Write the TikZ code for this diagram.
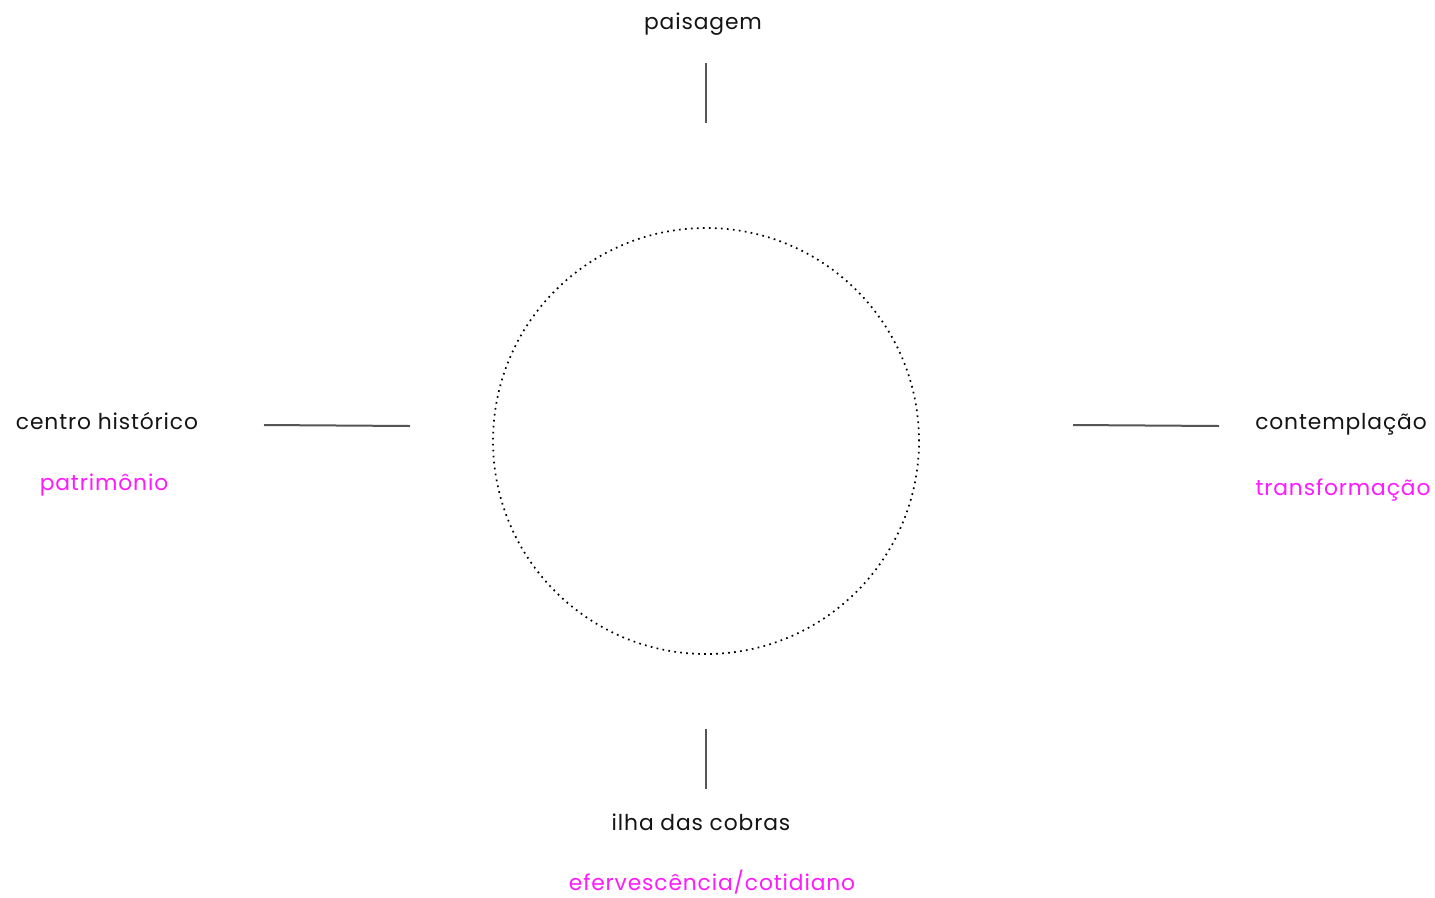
\documentclass[tikz,border=0pt]{standalone}
\usepackage{fontspec}
\setmainfont{Poppins}[LetterSpace=4]
\definecolor{mag}{HTML}{FF1AFF}
\definecolor{ink}{HTML}{141414}
\definecolor{linec}{HTML}{555555}
\begin{document}
\begin{tikzpicture}[x=1pt,y=-1pt,
  lbl/.style={anchor=base,inner sep=0pt,font=\fontsize{21.8}{24}\selectfont,text=ink},
  sub/.style={lbl,text=mag},
  tick/.style={draw=linec,line width=2pt}]
\useasboundingbox[fill=white] (0,0) rectangle (1435,897);
\node[draw=black,line width=1.7pt,dash pattern=on 1.7pt off 4.3pt,circle,minimum size=426pt,inner sep=0pt] (ring) at (706,441) {};
\node[lbl] (paisagem) at (703,29) {paisagem};
\node[lbl] (centro) at (107,429) {centro histórico};
\node[sub] (patrimonio) at (104,490) {patrimônio};
\node[lbl] (contemp) at (1341,429) {contemplação};
\node[sub] (transf) at (1343,495) {transformação};
\node[lbl] (ilha) at (701,830) {ilha das cobras};
\node[sub] (eferv) at (712,890) {efervescência/cotidiano};
\coordinate (t1) at (706,63); \coordinate (t2) at (706,123);
\coordinate (l1) at (264,425); \coordinate (l2) at (410,426);
\coordinate (r1) at (1073,425); \coordinate (r2) at (1219,426);
\coordinate (b1) at (706,729); \coordinate (b2) at (706,789);
\draw[tick] (t1) -- (t2);
\draw[tick] (l1) -- (l2);
\draw[tick] (r1) -- (r2);
\draw[tick] (b1) -- (b2);
\end{tikzpicture}
\end{document}
